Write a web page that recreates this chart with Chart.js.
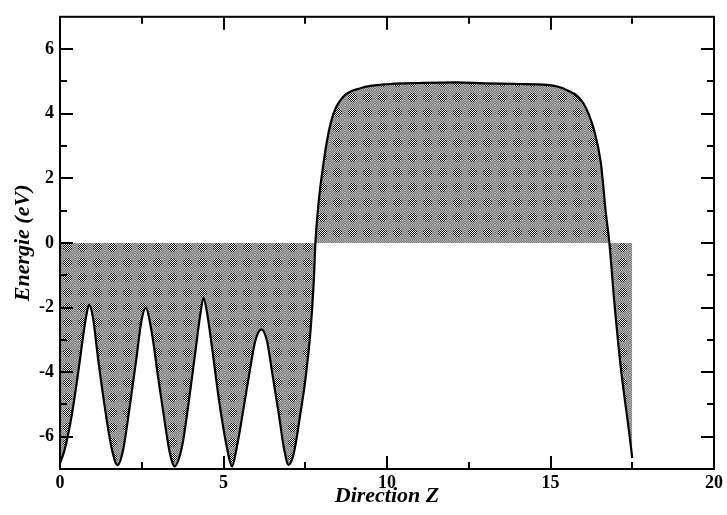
<!DOCTYPE html>
<html>
<head>
<meta charset="utf-8">
<script src="https://cdn.jsdelivr.net/npm/chart.js@4.4.0/dist/chart.umd.min.js"></script>
<style>
  html, body { margin: 0; padding: 0; background: #fff; }
  #wrap { width: 727px; height: 515px; }
</style>
</head>
<body>
<div id="wrap"><canvas id="potChart" width="727" height="515"></canvas></div>
<script>
// position along z and potential energy
const zValues = [
  0.00, 0.14, 0.35, 0.55, 0.70, 0.81, 0.89, 1.01, 1.16, 1.37, 1.57, 1.76,
  1.93, 2.13, 2.34, 2.49, 2.62, 2.80, 3.00, 3.21, 3.36, 3.50,
  3.73, 3.93, 4.13, 4.29, 4.39, 4.49, 4.65, 4.85, 5.10, 5.26,
  5.41, 5.62, 5.82, 5.97, 6.16, 6.33, 6.48, 6.69, 6.84, 6.99,
  7.15, 7.35, 7.50, 7.66, 7.76, 7.81, 7.91, 8.06, 8.20, 8.37, 8.67, 9.19,
  10.1, 11.0, 12.1, 13.0, 14.0, 14.9, 15.5, 16.0, 16.33, 16.54, 16.69, 16.80,
  16.95, 17.15, 17.41, 17.50
];
const energyValues = [
  -6.82, -6.41, -5.39, -4.06, -2.94, -2.22, -1.91, -2.32, -3.55, -5.08, -6.31, -6.88,
  -6.41, -5.08, -3.55, -2.42, -2.01, -2.73, -4.16, -5.59, -6.51, -6.92,
  -6.31, -4.98, -3.44, -2.22, -1.71, -2.12, -3.24, -4.78, -6.31, -6.92,
  -6.31, -5.08, -3.86, -3.04, -2.68, -3.04, -3.96, -5.29, -6.31, -6.87,
  -6.51, -5.29, -4.26, -2.73, -1.20, 0.00, 1.26, 2.48, 3.35, 4.02, 4.53, 4.79,
  4.92, 4.95, 4.97, 4.94, 4.92, 4.89, 4.73, 4.33, 3.50, 2.48, 0.95, 0.00,
  -1.81, -3.86, -5.90, -6.66
];

const xTicks = [0, 5, 10, 15, 20];
const xMinorTicks = [2.5, 7.5, 12.5, 17.5];
const yTicks = [-6, -4, -2, 0, 2, 4, 6];
const yMinorTicks = [-5, -3, -1, 1, 3, 5];

// grey stipple like the grace fill pattern
function makePattern() {
  const size = 15;
  const c = document.createElement('canvas');
  c.width = size; c.height = size;
  const g = c.getContext('2d');
  for (let i = 0; i < size; i++) {
    for (let j = 0; j < size; j++) {
      const dx = i - 7, dy = j - 7;
      const inDot = dx * dx + dy * dy < 20;
      const odd = (i + j) % 2 === 1;
      if (inDot) g.fillStyle = odd ? '#000000' : '#ffffff';
      else g.fillStyle = odd ? '#787878' : '#b2b2b2';
      g.fillRect(i, j, 1, 1);
    }
  }
  return g.createPattern(c, 'repeat');
}

const frameTicks = {
  id: 'frameTicks',
  afterDatasetsDraw(chart) {
    const ctx = chart.ctx;
    const {left, right, top, bottom} = chart.chartArea;
    const sx = chart.scales.x, sy = chart.scales.y;
    ctx.save();
    ctx.strokeStyle = '#000';
    ctx.lineWidth = 2;
    ctx.strokeRect(left, top, right - left, bottom - top);
    ctx.beginPath();
    const tick = (v, len, horiz) => {
      if (horiz) {
        const px = Math.round(sx.getPixelForValue(v));
        ctx.moveTo(px, bottom); ctx.lineTo(px, bottom - len);
        ctx.moveTo(px, top); ctx.lineTo(px, top + len);
      } else {
        const py = Math.round(sy.getPixelForValue(v));
        ctx.moveTo(left, py); ctx.lineTo(left + len, py);
        ctx.moveTo(right, py); ctx.lineTo(right - len, py);
      }
    };
    xTicks.forEach(v => tick(v, 13, true));
    xMinorTicks.forEach(v => tick(v, 7, true));
    yTicks.forEach(v => tick(v, 13, false));
    yMinorTicks.forEach(v => tick(v, 7, false));
    ctx.stroke();
    ctx.restore();
  }
};

const ctx = document.getElementById('potChart');
new Chart(ctx, {
  type: 'line',
  data: {
    datasets: [{
      label: 'Potentiel',
      data: zValues.map((z, i) => ({x: z, y: energyValues[i]})),
      borderColor: '#000',
      borderWidth: 2.2,
      backgroundColor: makePattern(),
      fill: {value: 0},
      pointRadius: 0,
      cubicInterpolationMode: 'monotone'
    }]
  },
  options: {
    responsive: false,
    animation: false,
    devicePixelRatio: 1,
    layout: { padding: {top: 12, right: 13, left: 0, bottom: 0} },
    plugins: {
      legend: { display: false },
      tooltip: { enabled: false }
    },
    scales: {
      x: {
        type: 'linear',
        min: 0,
        max: 20,
        afterBuildTicks: s => { s.ticks = xTicks.map(v => ({value: v})); },
        afterFit: s => { s.height = 46; },
        grid: { display: false, drawTicks: false },
        border: { display: false },
        ticks: {
          padding: 4,
          color: '#000',
          font: { family: 'Liberation Serif', size: 18, weight: 'bold' }
        },
        title: {
          display: true,
          text: 'Direction Z',
          color: '#000',
          padding: {top: 0, bottom: 5},
          font: { family: 'Liberation Serif', size: 22, weight: 'bold', style: 'italic', lineHeight: 1.2 }
        }
      },
      y: {
        min: -7,
        max: 7,
        afterBuildTicks: s => { s.ticks = yTicks.map(v => ({value: v})); },
        afterFit: s => { s.width = 60; },
        grid: { display: false, drawTicks: false },
        border: { display: false },
        ticks: {
          padding: 6,
          color: '#000',
          font: { family: 'Liberation Serif', size: 18, weight: 'bold' }
        },
        title: {
          display: true,
          text: 'Energie (eV)',
          color: '#000',
          padding: {top: 10, bottom: 0},
          font: { family: 'Liberation Serif', size: 22, weight: 'bold', style: 'italic', lineHeight: 1.2 }
        }
      }
    }
  },
  plugins: [frameTicks]
});
</script>
</body>
</html>
